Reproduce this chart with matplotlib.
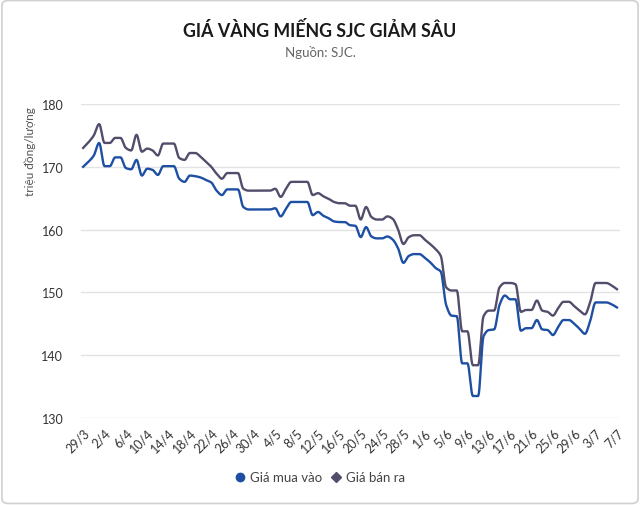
import matplotlib
matplotlib.use("Agg")
import matplotlib.pyplot as plt
import numpy as np
from matplotlib.patches import FancyBboxPatch
from matplotlib.lines import Line2D

# daily prices 29/3 -> 7/7 (trieu dong/luong)
gia_mua = [170.0, 170.8, 171.8, 173.8, 170.1, 170.1, 171.5, 171.5, 169.8, 169.6,
           171.1, 168.6, 169.7, 169.5, 168.7, 170.1, 170.1, 170.1, 168.1, 167.6,
           168.6, 168.5, 168.3, 167.9, 167.5, 166.2, 165.5, 166.4, 166.4, 166.4,
           163.6, 163.2, 163.2, 163.2, 163.2, 163.2, 163.4, 162.1, 163.3, 164.4,
           164.4, 164.4, 164.4, 162.3, 162.8, 162.2, 161.8, 161.3, 161.2, 161.2,
           160.7, 160.6, 158.8, 160.4, 158.9, 158.6, 158.6, 158.9, 158.4, 157.0,
           154.7, 155.8, 156.1, 156.1, 155.5, 154.8, 153.9, 153.3, 148.0, 146.3,
           146.2, 138.7, 138.7, 133.5, 133.5, 143.0, 144.0, 144.1, 148.0, 149.5,
           148.9, 148.9, 143.9, 144.3, 144.3, 145.6, 144.1, 144.0, 143.2, 144.5,
           145.6, 145.6, 145.0, 144.2, 143.4, 145.5, 148.4, 148.4, 148.4, 148.1,
           147.6]
gia_ban = [173.0, 173.9, 175.0, 176.8, 173.8, 173.8, 174.6, 174.6, 173.0, 172.6,
           175.1, 172.4, 172.9, 172.6, 171.8, 173.7, 173.7, 173.7, 171.4, 171.1,
           172.2, 172.2, 171.6, 170.8, 170.0, 168.9, 168.1, 169.0, 169.0, 169.0,
           166.5, 166.2, 166.2, 166.2, 166.2, 166.2, 166.5, 165.2, 166.5, 167.6,
           167.6, 167.6, 167.6, 165.5, 165.8, 165.3, 164.9, 164.4, 164.2, 164.2,
           163.8, 163.8, 161.6, 163.6, 162.0, 161.6, 161.6, 162.1, 161.7, 160.0,
           157.7, 158.8, 159.1, 159.1, 158.4, 157.7, 156.9, 155.8, 150.8, 150.3,
           150.3, 143.8, 143.8, 138.4, 138.4, 146.2, 147.1, 147.1, 150.8, 151.5,
           151.5, 151.3, 146.9, 147.2, 147.2, 148.7, 147.1, 146.9, 146.3, 147.5,
           148.5, 148.5, 147.8, 147.1, 146.5, 148.5, 151.5, 151.5, 151.5, 151.1,
           150.5]
tick_labels = ['29/3', '2/4', '6/4', '10/4', '14/4', '18/4', '22/4', '26/4', '30/4',
               '4/5', '8/5', '12/5', '16/5', '20/5', '24/5', '28/5', '1/6', '5/6',
               '9/6', '13/6', '17/6', '21/6', '25/6', '29/6', '3/7', '7/7']

BLUE = '#1d4fa3'
GRAY = '#534c6b'
plt.rcParams['font.family'] = ['Lato', 'DejaVu Sans']


def smooth(y, n=8):
    # monotone cubic curve through the points, only for drawing
    y = np.asarray(y, float)
    d = np.diff(y)
    m = np.zeros_like(y)
    m[0], m[-1] = d[0], d[-1]
    for i in range(1, len(y) - 1):
        if d[i - 1] * d[i] > 0:
            m[i] = 2 / (1 / d[i - 1] + 1 / d[i])
    xs, ys = [], []
    t = np.linspace(0, 1, n, endpoint=False)
    for i in range(len(y) - 1):
        h00 = 2 * t**3 - 3 * t**2 + 1
        h10 = t**3 - 2 * t**2 + t
        h01 = -2 * t**3 + 3 * t**2
        h11 = t**3 - t**2
        xs.extend(i + t)
        ys.extend(h00 * y[i] + h10 * m[i] + h01 * y[i + 1] + h11 * m[i + 1])
    xs.append(len(y) - 1)
    ys.append(y[-1])
    return xs, ys


fig = plt.figure(figsize=(6.4, 5.06), dpi=100)
fig.patches.append(FancyBboxPatch((0.003, 0.003), 0.994, 0.994, boxstyle="round,pad=0,rounding_size=0.01",
                                  transform=fig.transFigure, fc='none', ec='#d0d0d0', lw=1.2, zorder=-1))
ax = fig.add_axes([0.127, 0.172, 0.842, 0.6205])

ax.plot(*smooth(gia_ban), color=GRAY, lw=1.7, solid_joinstyle='round', zorder=3)
ax.plot(*smooth(gia_mua), color=BLUE, lw=1.7, solid_joinstyle='round', zorder=4)

ax.set_ylim(130, 180)
ax.set_yticks([130, 140, 150, 160, 170, 180])
ax.set_xlim(-0.35, 100.6)
ax.set_xticks(range(0, len(gia_mua), 4))
ax.set_xticklabels(tick_labels, rotation=45, ha='right', rotation_mode='anchor')
ax.tick_params(axis='both', length=0, labelsize=9, colors='#333333')
ax.tick_params(axis='x', pad=6)
ax.tick_params(axis='y', pad=13)
ax.grid(axis='y', color='#e3e3e3', lw=1)
ax.set_axisbelow(True)
for s in ax.spines.values():
    s.set_visible(False)

fig.text(0.5, 0.94, 'GIÁ VÀNG MIẾNG SJC GIẢM SÂU', ha='center', va='center',
         fontsize=12.8, fontweight='bold', color='#1a1a1a')
fig.text(0.5, 0.897, 'Nguồn: SJC.', ha='center', va='center', fontsize=9.5, color='#666666')
fig.text(0.047, 0.70, 'triệu đồng/lượng', rotation=90, ha='center', va='center',
         fontsize=8.5, color='#555555')

handles = [Line2D([], [], ls='none', marker='o', ms=6, color=BLUE),
           Line2D([], [], ls='none', marker='D', ms=5, color=GRAY)]
fig.legend(handles, ['Giá mua vào', 'Giá bán ra'], loc='center', bbox_to_anchor=(0.5, 0.055),
           ncol=2, frameon=False, fontsize=9.5, handlelength=0.8, handletextpad=0.4,
           columnspacing=0.6, labelcolor='#444444')

fig.savefig('out.png', dpi=100)
